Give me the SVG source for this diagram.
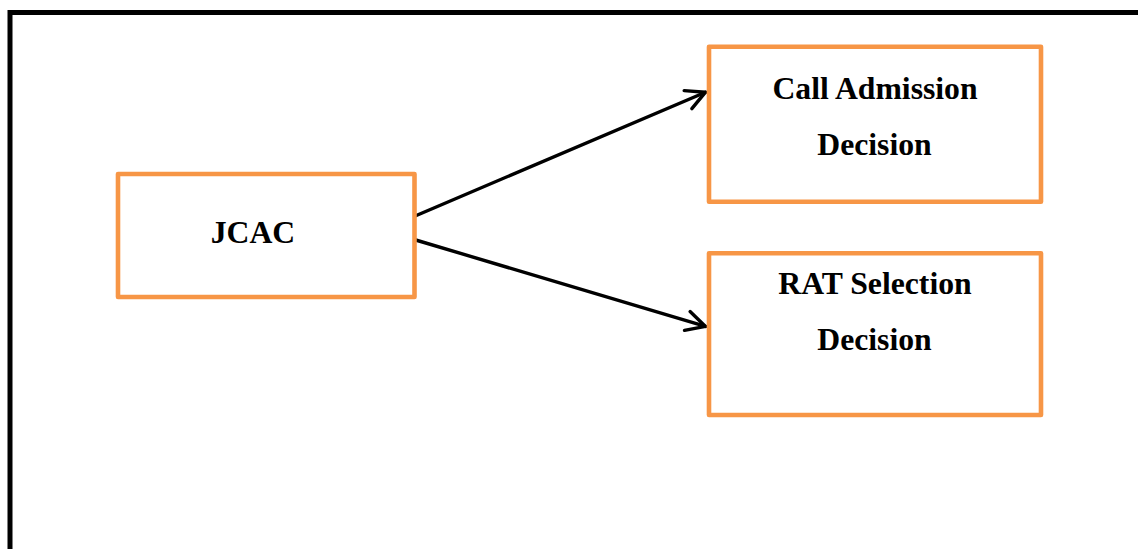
<svg xmlns="http://www.w3.org/2000/svg" width="1138" height="549" viewBox="0 0 1138 549">
  <style>
    .box { fill: #ffffff; stroke: #F79646; stroke-width: 4.6; stroke-linejoin: round; }
    .label { font-family: "Liberation Serif", "Times New Roman", serif; font-weight: bold; font-size: 31.7px; fill: #000000; text-anchor: middle; }
    .link { fill: none; stroke: #000000; stroke-width: 3.4; stroke-linecap: round; }
  </style>
  <defs>
    <marker id="open-arrow" markerUnits="userSpaceOnUse" markerWidth="30" markerHeight="30" refX="0" refY="0" viewBox="-24 -15 30 30" orient="auto" overflow="visible">
      <path d="M -19 -9.8 L 0 0 L -19 9.8" fill="none" stroke="#000000" stroke-width="3.4" stroke-linecap="round" stroke-linejoin="round"/>
    </marker>
  </defs>

  <rect width="1138" height="549" fill="#ffffff"/>

  <!-- outer frame, continuing past the right and bottom edges -->
  <rect id="frame" x="10" y="12.5" width="1200" height="600" fill="none" stroke="#000000" stroke-width="5"/>

  <g id="connectors">
    <line class="link" x1="415.7" y1="215.7" x2="705.5" y2="92.2" marker-end="url(#open-arrow)"/>
    <line class="link" x1="415.7" y1="240" x2="705.5" y2="326.4" marker-end="url(#open-arrow)"/>
  </g>

  <g id="node-jcac">
    <rect class="box" x="118" y="174" width="296.5" height="123"/>
    <text class="label" x="253" y="243.3">JCAC</text>
  </g>

  <g id="node-call-admission">
    <rect class="box" x="709" y="46.7" width="332" height="155"/>
    <text class="label" x="875" y="99">Call Admission</text>
    <text class="label" x="874.5" y="155">Decision</text>
  </g>

  <g id="node-rat-selection">
    <rect class="box" x="709" y="253.3" width="332" height="161.7"/>
    <text class="label" x="875" y="294.3">RAT Selection</text>
    <text class="label" x="874.5" y="350">Decision</text>
  </g>
</svg>
